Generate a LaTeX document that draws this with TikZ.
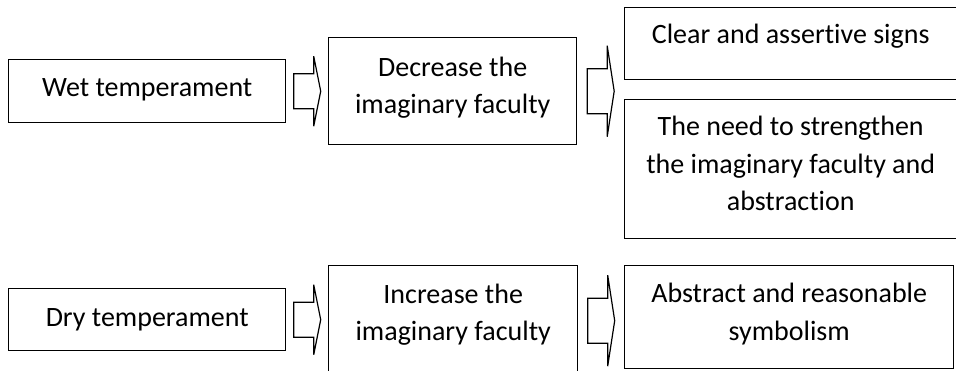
\documentclass[tikz,border=0pt]{standalone}
\usepackage{fontspec}
\setmainfont{Carlito}[Ligatures=NoCommon]
\usetikzlibrary{positioning}
\usetikzlibrary{calc}

\tikzset{
	pics/blockarrow/.style 2 args={code={
		\draw[line width=1.2pt, line join=miter] (-13.5,-#1) -- (6.5,-#1) -- (6.5,-#2) -- (13.5,0)
			-- (6.5,#2) -- (6.5,#1) -- (-13.5,#1) -- cycle;}}
}

\begin{document}
\begin{tikzpicture}
		[x=1pt, y=-1pt,
		box/.style={rectangle, draw=black, line width=1.4pt, inner sep=0pt, anchor=north west},
		txt/.style={align=center, inner sep=0pt, font=\fontsize{28pt}{37.5pt}\selectfont}]
		\useasboundingbox (0,0) rectangle (956,371);

		\node[box, minimum width=277pt, minimum height=63pt] (wet) at (8,59) {};
		\node[box, minimum width=248pt, minimum height=107pt] (dec) at (328,37) {};
		\node[box, minimum width=332pt, minimum height=72pt] (clear) at (624,7) {};
		\node[box, minimum width=332pt, minimum height=139pt] (need) at (624,99) {};
		\node[box, minimum width=277pt, minimum height=62pt] (dry) at (8,288) {};
		\node[box, minimum width=249pt, minimum height=110pt] (inc) at (328,265) {};
		\node[box, minimum width=329pt, minimum height=103pt] (abs) at (624,265) {};

		\node[txt, below=19.5pt of wet.north] (wet-t) {Wet temperament};
		\node[txt, below=19.5pt of dec.north] (dec-t) {Decrease the\\imaginary faculty};
		\node[txt, below=16.5pt of clear.north] (clear-t) {Clear and assertive signs};
		\node[txt, below=17pt of need.north] (need-t) {The need to strengthen\\the imaginary faculty and\\abstraction};
		\node[txt, below=20.5pt of dry.north] (dry-t) {Dry temperament};
		\node[txt, below=18.5pt of inc.north] (inc-t) {Increase the\\imaginary faculty};
		\node[txt, below=18pt of abs.north] (abs-t) {Abstract and reasonable\\symbolism};

		\pic at ($(wet.east)!0.5!(dec.west)$) {blockarrow={17.5}{35}};
		\pic at ($(dec.east)!0.5!(dec.east -| clear.west)$) {blockarrow={22.5}{45.5}};
		\pic at ($(dry.east)!0.5!(dry.east -| inc.west)$) {blockarrow={17.5}{35}};
		\pic at ($(inc.east)!0.5!(inc.east -| abs.west)$) {blockarrow={22.5}{45.5}};
	\end{tikzpicture}
\end{document}
